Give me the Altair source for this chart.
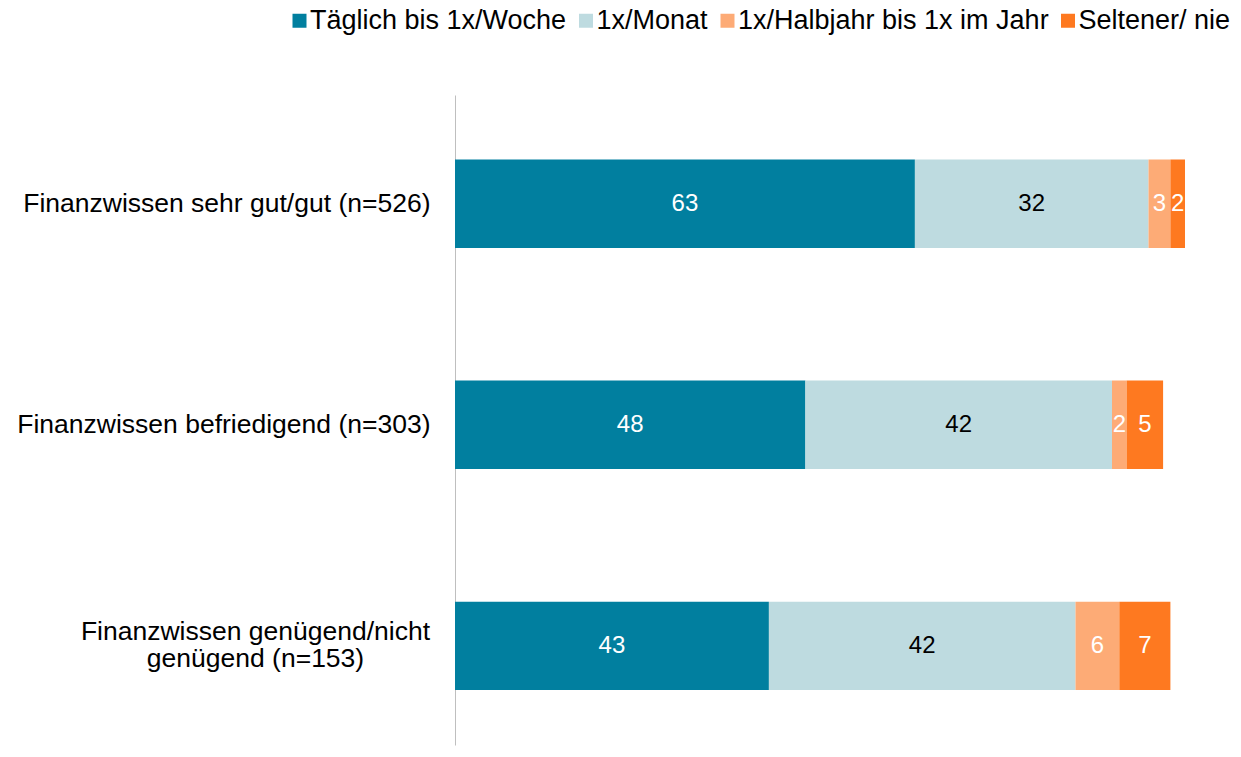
import altair as alt
import pandas as pd

groups = [
    "Finanzwissen sehr gut/gut (n=526)",
    "Finanzwissen befriedigend (n=303)",
    "Finanzwissen genügend/nicht genügend (n=153)",
]
series = ["Täglich bis 1x/Woche", "1x/Monat", "1x/Halbjahr bis 1x im Jahr", "Seltener/ nie"]
vals_taeglich = [63, 48, 43]
vals_monat = [32, 42, 42]
vals_halbjahr = [3, 2, 6]
vals_selten = [2, 5, 7]
colors = ["#017F9F", "#BEDBE0", "#FDAB76", "#FE7920"]

rows = []
for gi, g in enumerate(groups):
    for si, (s, vals) in enumerate(zip(series, [vals_taeglich, vals_monat, vals_halbjahr, vals_selten])):
        rows.append({"Gruppe": g, "Serie": s, "Wert": vals[gi], "idx": si})
df = pd.DataFrame(rows)

FONT = "Liberation Sans"
test_third = "datum.value == 'Finanzwissen genügend/nicht genügend (n=153)'"
label_expr = (
    test_third + " ? ['Finanzwissen genügend/nicht', 'genügend (n=153)'] : datum.label"
)

yscale = alt.Scale(domain=groups, paddingInner=0.6, paddingOuter=0.27, align=0.54)
xscale = alt.Scale(domain=[0, 100], nice=False, zero=True)

base = alt.Chart(df)

bars = base.mark_bar(strokeWidth=0).encode(
    y=alt.Y(
        "Gruppe:N",
        sort=groups,
        scale=yscale,
        axis=alt.Axis(
            title=None,
            ticks=False,
            tickSize=0,
            labelPadding={"condition": {"test": test_third, "value": 200}, "value": 25},
            labelAlign={"condition": {"test": test_third, "value": "center"}, "value": "right"},
            labelOffset={"condition": {"test": test_third, "value": -14}, "value": 0},
            labelFontSize=26.5,
            labelFont=FONT,
            labelColor="black",
            labelLimit=0,
            labelExpr=label_expr,
            labelLineHeight=27,
            domainColor="#BFBFBF",
            domainWidth=1,
            grid=False,
        ),
    ),
    x=alt.X("Wert:Q", stack="zero", scale=xscale, axis=None),
    color=alt.Color(
        "Serie:N",
        sort=series,
        scale=alt.Scale(domain=series, range=colors),
        legend=alt.Legend(
            title=None,
            orient="none",
            direction="horizontal",
            legendX=-169,
            legendY=-88,
            symbolType="square",
            symbolSize=196,
            symbolStrokeWidth=0,
            symbolOpacity=1,
            labelFontSize=27,
            labelFont=FONT,
            labelColor="black",
            labelOffset={"expr": "-3"},
            columnPadding=5.5,
            padding=0,
            labelLimit=0,
        ),
    ),
    order=alt.Order("idx:Q"),
)

texts = (
    base.transform_stack(
        stack="Wert", groupby=["Gruppe"], sort=[alt.SortField("idx")], as_=["x0", "x1"]
    )
    .transform_calculate(mid="(datum.x0 + datum.x1) / 2")
    .mark_text(font=FONT, fontSize=24, baseline="middle", align="center")
    .encode(
        y=alt.Y("Gruppe:N", sort=groups, scale=yscale),
        x=alt.X("mid:Q", scale=xscale, axis=None),
        text=alt.Text("Wert:Q"),
        color=alt.condition(alt.datum.Serie == "1x/Monat", alt.value("black"), alt.value("white")),
    )
)

chart = (
    alt.layer(bars, texts)
    .properties(
        width=730,
        height=650,
        background="white",
        autosize=alt.AutoSizeParams(type="none"),
        padding={"left": 447, "top": 87, "right": 48, "bottom": 4},
    )
    .configure_view(strokeWidth=0, stroke="transparent")
)

chart.save("out.html", embed_options={"renderer": "svg", "actions": False})
